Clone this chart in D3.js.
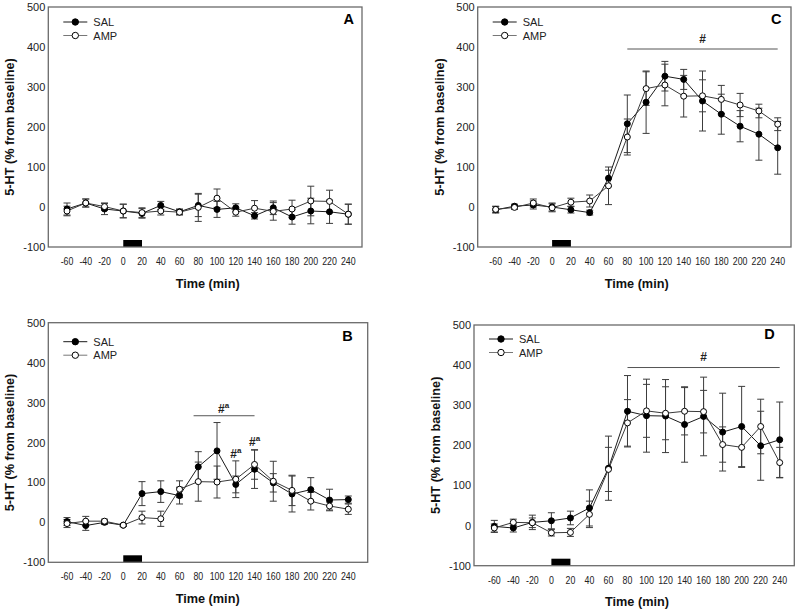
<!DOCTYPE html>
<html><head><meta charset="utf-8">
<script src="https://cdn.jsdelivr.net/npm/d3@7"></script>
<style>
body{margin:0;background:#fff;}
svg{display:block;font-family:"Liberation Sans",Arial,sans-serif;}
</style></head>
<body><svg id="c" width="800" height="612"></svg>
<script>
const times = [-60,-40,-20,0,20,40,60,80,100,120,140,160,180,200,220,240];
const xTicks = times;
const yTicks = [-100,0,100,200,300,400,500];
const injection = [0,20];
const seriesNames = ["SAL","AMP"];

const salA = [-5,10,-5,-10,-16,4,-12,4,-6,-2,-22,-2,-25,-10,-12,-18];
const salAerr = [15,10,14,17,12,10,7,28,20,10,8,17,18,32,29,25];
const ampA = [-10,10,1,-10,-14,-10,-13,-1,22,-13,-3,-11,-5,15,14,-18];
const ampAerr = [12,10,9,17,12,10,7,35,23,10,19,22,22,37,28,25];

const salB = [2,-8,0,-7,72,77,67,139,179,95,133,99,71,82,56,57];
const salBerr = [10,12,5,3,30,27,21,38,71,21,48,23,45,30,27,9];
const ampB = [-3,3,3,-7,12,9,83,102,101,108,145,103,80,53,41,33];
const ampBerr = [10,12,5,3,16,19,21,49,40,46,37,50,38,22,10,13];

const salC = [-7,2,5,0,-7,-14,72,208,262,327,319,265,232,202,182,148];
const salCerr = [8,5,10,10,8,6,20,72,78,37,25,75,50,39,65,66];
const ampC = [-6,-1,10,-2,12,15,53,175,296,305,277,278,269,255,240,207];
const ampCerr = [8,5,10,10,10,15,47,45,42,52,52,40,35,29,17,16];

const salD = [-2,-6,8,12,19,44,143,285,274,273,252,272,233,247,199,214];
const salDerr = [15,10,18,20,17,45,80,89,91,91,94,98,97,100,86,94];
const ampD = [-6,8,7,-18,-17,28,140,256,286,280,285,284,202,195,247,157];
const ampDerr = [10,8,12,8,10,33,55,58,66,66,59,53,44,50,68,38];

// significance bars: [from, to, level] and labels [x, y, text, superscript]
const sigBarB = [75,140,267];
const sigBarC = [80,240,395];
const sigBarD = [80,240,394];
const sigLabelsB = [[107,274,"#","a"],[120,161,"#","a"],[140,190,"#","a"]];
const sigLabelsC = [[160,410,"#",""]];
const sigLabelsD = [[160,411,"#",""]];

const panels = [
  {label:"A", sal:salA, salErr:salAerr, amp:ampA, ampErr:ampAerr, bar:null, labels:[],
   frame:{l:48.3,t:7,r:362,b:247}, xr:[67,348.3], legY:15, lab:[348.7,24]},
  {label:"B", sal:salB, salErr:salBerr, amp:ampB, ampErr:ampBerr, bar:sigBarB, labels:sigLabelsB,
   frame:{l:48.3,t:322.7,r:367.7,b:562.3}, xr:[67,348.3], legY:19, lab:[347.5,340.7]},
  {label:"C", sal:salC, salErr:salCerr, amp:ampC, ampErr:ampCerr, bar:sigBarC, labels:sigLabelsC,
   frame:{l:477.7,t:7,r:791,b:247}, xr:[495.7,777.7], legY:15, lab:[776.2,24]},
  {label:"D", sal:salD, salErr:salDerr, amp:ampD, ampErr:ampDerr, bar:sigBarD, labels:sigLabelsD,
   frame:{l:474,t:325,r:794.3,b:565.7}, xr:[494.3,779.7], legY:14, lab:[769.5,339.3]}
];

const svg = d3.select("#c");
const ink = "#222";

panels.forEach(p => {
  const f = p.frame;
  const x = d3.scaleLinear().domain([-60,240]).range(p.xr);
  const y = d3.scaleLinear().domain([-100,500]).range([f.b,f.t]);
  const g = svg.append("g");

  // injection bar
  g.append("rect").attr("x",x(injection[0])).attr("width",x(injection[1])-x(injection[0]))
    .attr("y",f.b-7).attr("height",7).attr("fill","#000");

  // frame
  g.append("rect").attr("x",f.l).attr("y",f.t).attr("width",f.r-f.l).attr("height",f.b-f.t)
    .attr("fill","none").attr("stroke","#6a6a6a").attr("stroke-width",1.3);

  // y tick labels
  g.selectAll(".yt").data(yTicks).enter().append("text")
    .attr("x",f.l-3).attr("y",d=>y(d)+4).attr("text-anchor","end")
    .attr("font-size",11).attr("fill",ink).text(d=>d);
  // x tick labels (narrow)
  g.selectAll(".xt").data(xTicks).enter().append("text")
    .attr("transform",d=>`translate(${x(d)},${f.b+18}) scale(0.8,1)`).attr("text-anchor","middle")
    .attr("font-size",11).attr("fill",ink).text(d=>d);

  // axis titles
  g.append("text").attr("x",(p.xr[0]+p.xr[1])/2).attr("y",f.b+40.5)
    .attr("text-anchor","middle").attr("font-size",12.7).attr("font-weight","bold").attr("fill","#111")
    .text("Time (min)");
  g.append("text").attr("transform",`translate(${f.l-34},${(f.t+f.b)/2}) rotate(-90)`)
    .attr("text-anchor","middle").attr("font-size",12.7).attr("font-weight","bold").attr("fill","#111")
    .text("5-HT (% from baseline)");

  // panel label
  g.append("text").attr("x",p.lab[0]).attr("y",p.lab[1]).attr("text-anchor","middle")
    .attr("font-size",14.5).attr("font-weight","bold").attr("fill","#000").text(p.label);

  // significance
  if (p.bar) {
    g.append("line").attr("x1",x(p.bar[0])).attr("x2",x(p.bar[1]))
      .attr("y1",y(p.bar[2])).attr("y2",y(p.bar[2])).attr("stroke","#555").attr("stroke-width",1);
  }
  p.labels.forEach(l => {
    const t = g.append("text").attr("x",x(l[0])).attr("y",y(l[1])).attr("text-anchor","middle")
      .attr("font-size",12).attr("font-weight","bold").attr("fill","#222");
    t.append("tspan").text(l[2]);
    if (l[3]) t.append("tspan").attr("dy",-5).attr("font-size",8).text(l[3]);
  });

  const series = [
    {vals:p.sal, err:p.salErr, fill:"#000", line:"#1a1a1a"},
    {vals:p.amp, err:p.ampErr, fill:"#fff", line:"#3a3a3a"}
  ];
  // error bars
  series.forEach(s => {
    const eg = g.append("g").attr("stroke","#3c3c3c").attr("stroke-width",1);
    times.forEach((t,i) => {
      const cx = x(t), hi = y(s.vals[i]+s.err[i]), lo = y(s.vals[i]-s.err[i]);
      eg.append("line").attr("x1",cx).attr("x2",cx).attr("y1",hi).attr("y2",lo);
      eg.append("line").attr("x1",cx-3.5).attr("x2",cx+3.5).attr("y1",hi).attr("y2",hi);
      eg.append("line").attr("x1",cx-3.5).attr("x2",cx+3.5).attr("y1",lo).attr("y2",lo);
    });
  });
  // lines
  series.forEach(s => {
    g.append("path").datum(s.vals.map((v,i)=>[times[i],v]))
      .attr("d",d3.line().x(d=>x(d[0])).y(d=>y(d[1])))
      .attr("fill","none").attr("stroke",s.line).attr("stroke-width",1);
  });
  // markers
  series.forEach(s => {
    g.selectAll(null).data(s.vals).enter().append("circle")
      .attr("cx",(d,i)=>x(times[i])).attr("cy",d=>y(d)).attr("r",3)
      .attr("fill",s.fill).attr("stroke","#000").attr("stroke-width",1);
  });

  // legend
  seriesNames.forEach((nm,k) => {
    const ly = f.t + p.legY + k*13.5;
    g.append("line").attr("x1",f.l+15).attr("x2",f.l+39).attr("y1",ly).attr("y2",ly)
      .attr("stroke",k===0?"#1a1a1a":"#777").attr("stroke-width",1);
    g.append("circle").attr("cx",f.l+27).attr("cy",ly).attr("r",3.2)
      .attr("fill",k===0?"#000":"#fff").attr("stroke","#000").attr("stroke-width",1);
    g.append("text").attr("x",f.l+45).attr("y",ly+4).attr("font-size",11).attr("fill",ink).text(nm);
  });
});
</script></body></html>
